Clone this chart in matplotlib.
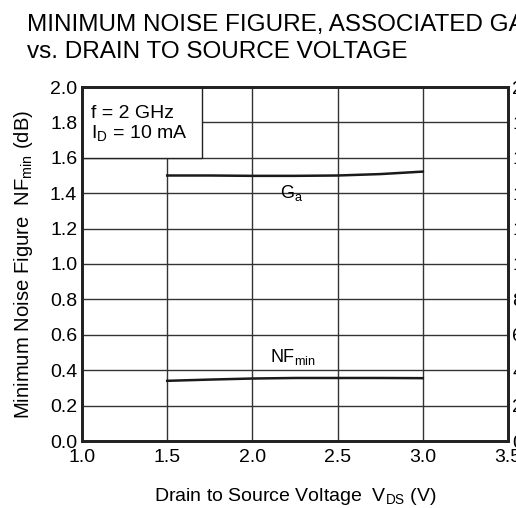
import matplotlib
matplotlib.use("Agg")
import matplotlib.pyplot as plt
from matplotlib.patches import Rectangle

plt.rcParams['font.family'] = ['Liberation Sans', 'DejaVu Sans']
plt.rcParams['mathtext.fontset'] = 'custom'
plt.rcParams['mathtext.rm'] = 'Liberation Sans'
plt.rcParams['mathtext.it'] = 'Liberation Sans'

vds = [1.5, 1.75, 2.0, 2.25, 2.5, 2.75, 3.0]
nf_min = [0.34, 0.347, 0.353, 0.356, 0.356, 0.356, 0.355]
ga = [15.0, 15.0, 14.98, 14.98, 15.0, 15.08, 15.22]

x_ticks = [1.0, 1.5, 2.0, 2.5, 3.0, 3.5]
nf_ticks = [0.0, 0.2, 0.4, 0.6, 0.8, 1.0, 1.2, 1.4, 1.6, 1.8, 2.0]
ga_ticks = [0, 2, 4, 6, 8, 10, 12, 14, 16, 18, 20]

W, H = 516, 508
fig = plt.figure(figsize=(W / 100, H / 100), dpi=100)
ax = fig.add_axes([82 / W, 1 - 441 / H, (508 - 82) / W, (441 - 87) / H])
ax2 = ax.twinx()

ax.set_xlim(1.0, 3.5)
ax.set_ylim(0.0, 2.0)
ax2.set_ylim(0, 20)
ax.set_xticks(x_ticks)
ax.set_xticklabels(['%.1f' % v for v in x_ticks])
ax.set_yticks(nf_ticks)
ax.set_yticklabels(['%.1f' % v for v in nf_ticks])
ax2.set_yticks(ga_ticks)
ax2.set_yticklabels([str(v) for v in ga_ticks])

ax.grid(True, color='#333333', linewidth=1.0, zorder=0)
ax.set_axisbelow(True)
for a in (ax, ax2):
    for s in a.spines.values():
        s.set_linewidth(2.0)
        s.set_color('#222222')
ax.tick_params(axis='y', length=0, labelsize=14, pad=3.5)
ax.tick_params(axis='x', length=0, labelsize=14, pad=5.5)
ax2.tick_params(axis='y', length=0, labelsize=14, pad=3)

# conditions box in the top left corner
ax.add_patch(Rectangle((1.0, 1.6), 0.705, 0.4, facecolor='white',
                       edgecolor='#222222', linewidth=1.0, zorder=2))
ax.text(1.055, 1.90, 'f = 2 GHz\nI$_{\\mathregular{D}}$ = 10 mA', fontsize=14,
        va='top', ha='left', linespacing=1.1, zorder=3)

ax.plot(vds, nf_min, color='#1a1a1a', linewidth=1.8, zorder=4)
ax2.plot(vds, ga, color='#1a1a1a', linewidth=1.8, zorder=4)

ax.text(2.23, 1.40, 'G$_{\\mathregular{a}}$', fontsize=13, ha='center', va='center')
ax.text(2.24, 0.475, 'NF$_{\\mathregular{min}}$', fontsize=13, ha='center', va='center')

ax.set_xlabel('Drain to Source Voltage  V$_{\\mathregular{DS}}$ (V)', fontsize=14, labelpad=15)
ax.set_ylabel('Minimum Noise Figure  NF$_{\\mathregular{min}}$ (dB)', fontsize=14.6, labelpad=11)

fig.text(27 / W, 1 - 14 / H, 'MINIMUM NOISE FIGURE, ASSOCIATED GAIN\nvs. DRAIN TO SOURCE VOLTAGE',
         fontsize=17.5, ha='left', va='top', linespacing=1.3)

fig.savefig('out.png', dpi=100)
